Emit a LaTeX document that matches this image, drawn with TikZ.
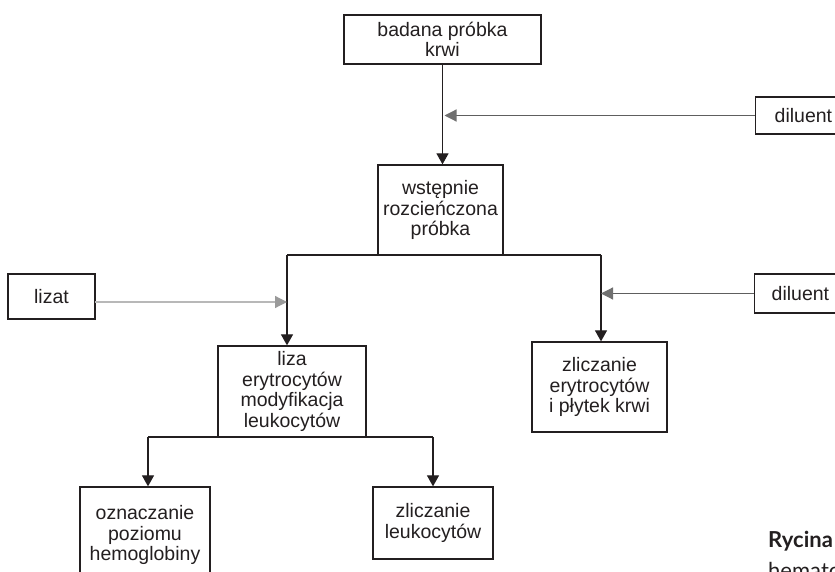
\documentclass[tikz,border=0pt]{standalone}
\usepackage{fontspec}
\setmainfont{Liberation Sans}
\newfontfamily\capfont{Lato}
\usetikzlibrary{arrows.meta}
\definecolor{ink}{HTML}{231F20}
\definecolor{dgray}{HTML}{5E5E5E}
\definecolor{dhead}{HTML}{707070}
\definecolor{lgray}{HTML}{B8B8B8}
\definecolor{lhead}{HTML}{9A9A9A}
\tikzset{
  box/.style={draw=ink, line width=1.3pt, text=ink, align=center, inner sep=2pt,
    font=\fontsize{19.5}{20.5}\selectfont},
  arr/.style={draw=ink, line width=1.2pt, -{Triangle[length=11pt,width=12pt]}},
  plain/.style={draw=ink, line width=1.2pt},
  darr/.style={draw=dgray, line width=1.2pt, -{Triangle[length=12pt,width=12pt,color=dhead]}},
  larr/.style={draw=lgray, line width=1.2pt, -{Triangle[length=12pt,width=12pt,color=lhead]}}
}
\begin{document}
\begin{tikzpicture}[x=1pt,y=-1pt]
\useasboundingbox (0,0) rectangle (835,572);
\clip (0,0) rectangle (835,572);
\fill[white] (0,0) rectangle (835,572);
% nodes
\node[box, minimum width=197pt, minimum height=49pt] (krew) at (442.5,39.5) {badana próbka\\krwi};
\node[box, minimum width=125pt, minimum height=90pt] (rozc) at (440.5,210) {wstępnie\\rozcieńczona\\próbka};
\node[box, minimum width=84pt, minimum height=37pt, anchor=west, text width=70pt, align=left] (diltop) at (755,115.5) {\hspace*{12pt}diluent};
\node[box, minimum width=87pt, minimum height=45pt] (lizat) at (51.5,296.5) {lizat};
\node[box, minimum width=86pt, minimum height=39pt, anchor=west, text width=72pt, align=left] (dilmid) at (754,293.5) {\hspace*{10pt}diluent};
\node[box, minimum width=148pt, minimum height=91pt] (liza) at (292,391.5) {liza\\erytrocytów\\modyfikacja\\leukocytów};
\node[box, minimum width=135pt, minimum height=90pt] (zlicz) at (599.5,387) {zliczanie\\erytrocytów\\i płytek krwi};
\node[box, minimum width=130pt, minimum height=96pt] (hem) at (145,535) {oznaczanie\\poziomu\\hemoglobiny};
\node[box, minimum width=120pt, minimum height=72pt] (leuk) at (433,523) {zliczanie\\leukocytów};
% caption fragment
\node[anchor=base west, inner sep=0pt, text=ink, font=\capfont\bfseries\fontsize{22}{26}\selectfont] (ryc) at (768,547) {Rycina};
\node[anchor=base west, inner sep=0pt, text=ink, font=\capfont\fontsize{22}{26}\selectfont] (hemt) at (768,578) {hemato};
% connectors
\coordinate (bl) at (287,255);
\coordinate (br) at (601,255);
\coordinate (ll) at (148,437);
\coordinate (lr) at (433,437);
\coordinate (lz) at (95,302);
\draw[arr] (krew.south) -- (krew.south |- rozc.north);
\draw[darr] (diltop.west) -- ([xshift=2pt]diltop.west -| krew.south);
\draw[plain] (bl) -- (br);
\draw[arr] (bl) -- (bl |- liza.north);
\draw[arr] (br) -- (br |- zlicz.north);
\draw[larr] (lz) -- (lz -| bl);
\draw[darr] (dilmid.west) -- (dilmid.west -| br);
\draw[plain] (ll) -- (lr);
\draw[arr] (ll) -- (ll |- hem.north);
\draw[arr] (lr) -- (lr |- leuk.north);
\end{tikzpicture}
\end{document}
